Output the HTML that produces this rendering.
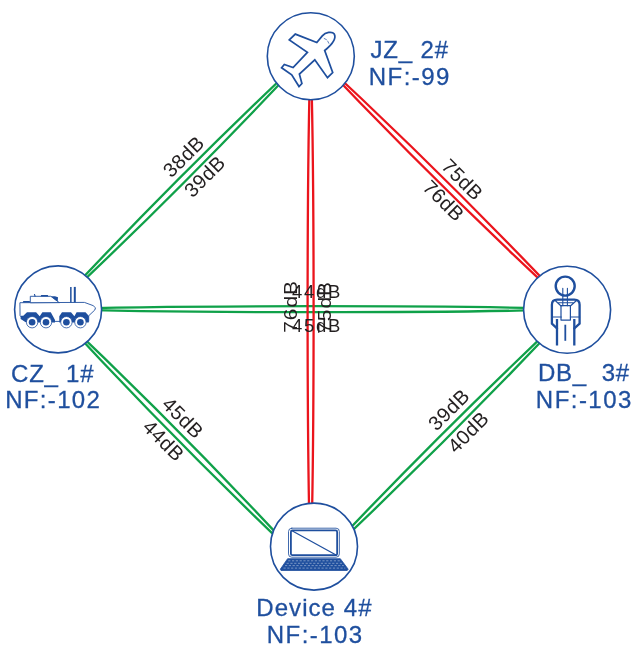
<!DOCTYPE html>
<html><head><meta charset="utf-8">
<style>
html,body{margin:0;padding:0;background:#fff;overflow:hidden;}
svg{display:block;will-change:transform;}
text{font-family:"Liberation Sans",sans-serif;}
.lbl{font-size:20px;letter-spacing:0.5px;fill:#231f20;text-anchor:middle;}
.nm{font-size:24px;fill:#1f4f9e;text-anchor:middle;stroke:#1f4f9e;stroke-width:0.3px;}
.g{stroke:#0fa149;stroke-width:2.3;fill:none;}
.r{stroke:#eb141c;stroke-width:2.3;fill:none;}
.c{fill:#fff;stroke:#1f4f9e;stroke-width:1.6;}
.i{fill:none;stroke:#1f4f9e;stroke-width:1.4;stroke-linejoin:round;stroke-linecap:round;}
.f{fill:#1f4f9e;stroke:none;}
</style></head><body>
<svg width="637" height="655" viewBox="0 0 637 655">
<path class="g" d="M53.30 309.20 C135.80 231.89 233.58 133.77 310.60 51.00"/>
<path class="g" d="M53.30 309.20 C130.32 226.43 228.10 128.31 310.60 51.00"/>
<path class="r" d="M310.60 51.00 C388.76 133.79 487.90 231.91 571.50 309.20"/>
<path class="r" d="M310.60 51.00 C394.20 128.29 493.34 226.41 571.50 309.20"/>
<path class="g" d="M53.30 309.20 C172.49 313.20 452.31 313.20 571.50 309.20"/>
<path class="g" d="M53.30 309.20 C172.49 305.20 452.31 305.20 571.50 309.20"/>
<path class="r" d="M310.60 51.00 C306.60 170.37 306.60 450.63 310.60 570.00"/>
<path class="r" d="M310.60 51.00 C314.60 170.37 314.60 450.63 310.60 570.00"/>
<path class="g" d="M53.30 309.20 C130.31 392.76 228.08 491.87 310.60 570.00"/>
<path class="g" d="M53.30 309.20 C135.82 387.33 233.59 486.44 310.60 570.00"/>
<path class="g" d="M571.50 309.20 C487.89 387.31 388.75 486.42 310.60 570.00"/>
<path class="g" d="M571.50 309.20 C493.35 392.78 394.21 491.89 310.60 570.00"/>
<text class="lbl" style="font-size:20px;letter-spacing:0.5px" transform="translate(188.5 161.4) rotate(-45)">38dB</text>
<text class="lbl" style="font-size:20px;letter-spacing:0.5px" transform="translate(209.6 181.2) rotate(-45)">39dB</text>
<text class="lbl" style="font-size:20px;letter-spacing:0.5px" transform="translate(457.5 184.5) rotate(45)">75dB</text>
<text class="lbl" style="font-size:20px;letter-spacing:0.5px" transform="translate(438.7 205.6) rotate(45)">76dB</text>
<text class="lbl" style="font-size:18.5px;letter-spacing:1.7px" transform="translate(317.0 298.0) rotate(0)">44dB</text>
<text class="lbl" style="font-size:18.5px;letter-spacing:1.7px" transform="translate(317.0 332.1) rotate(0)">45dB</text>
<text class="lbl" style="font-size:19.2px;letter-spacing:0.9px" transform="translate(296.7 306.4) rotate(-90) scale(1.09 1)">76dB</text>
<text class="lbl" style="font-size:19.2px;letter-spacing:0.9px" transform="translate(331.0 307.4) rotate(-90) scale(1.09 1)">75dB</text>
<text class="lbl" style="font-size:20px;letter-spacing:0.5px" transform="translate(178.0 422.8) rotate(45)">45dB</text>
<text class="lbl" style="font-size:20px;letter-spacing:0.5px" transform="translate(158.8 445.5) rotate(45)">44dB</text>
<text class="lbl" style="font-size:20px;letter-spacing:0.5px" transform="translate(453.7 414.5) rotate(-45)">39dB</text>
<text class="lbl" style="font-size:20px;letter-spacing:0.5px" transform="translate(473.1 437.0) rotate(-45)">40dB</text>
<circle class="c" cx="310.8" cy="56.2" r="43.5"/>
<circle class="c" cx="58.1" cy="309.4" r="43.5"/>
<circle class="c" cx="567.1" cy="309.7" r="43.5"/>
<circle class="c" cx="314.0" cy="546.6" r="43.5"/>
<text class="nm" x="409.2" y="57.5" textLength="77.6" lengthAdjust="spacing" xml:space="preserve">JZ_ 2#</text>
<text class="nm" x="409.1" y="84.6" textLength="80.7" lengthAdjust="spacing" xml:space="preserve">NF:-99</text>
<text class="nm" x="52.3" y="381.5" textLength="82.4" lengthAdjust="spacing" xml:space="preserve">CZ_ 1#</text>
<text class="nm" x="52.5" y="408.0" textLength="94.7" lengthAdjust="spacing" xml:space="preserve">NF:-102</text>
<text class="nm" x="583.6" y="381.1" textLength="91.1" lengthAdjust="spacing" xml:space="preserve">DB_  3#</text>
<text class="nm" x="583.6" y="408.0" textLength="95.5" lengthAdjust="spacing" xml:space="preserve">NF:-103</text>
<text class="nm" x="313.9" y="615.9" textLength="115.2" lengthAdjust="spacing" xml:space="preserve">Device 4#</text>
<text class="nm" x="314.5" y="642.6" textLength="95.4" lengthAdjust="spacing" xml:space="preserve">NF:-103</text>
<path class="i" style="stroke-width:1.75;stroke-linejoin:miter" d="M322.3 35.9 C325.5 32.3 332.1 31.0 334.3 34.1 C336.1 37.6 333.2 43.6 324.7 50.5 L332.7 72.5 L327.5 77.7 L314.8 59.8 L299.4 74.1 L301.9 83.5 L299.0 86.5 L291.7 74.9 L281.6 67.8 L284.3 64.5 L293.1 67.5 L307.4 52.4 L289.3 40.0 L295.3 34.1 L316.8 42.5 Z"/>
<path class="i" style="stroke-width:0.7" d="M324.2 38.5 L326.4 39.6 M327.7 41.1 L328.8 43.3"/>
<path class="i" style="stroke-width:0.9;fill:#fff;stroke-linejoin:miter" d="M20.3 302.7 L84.4 302.4 L93.1 305.6 L95.5 307.8 L94.8 310.0 L88.7 315.8 L88.7 321.4 L25.0 321.4 L20.3 315.8Z"/>
<path class="i" style="stroke-width:0.9;fill:#fff;stroke-linejoin:miter" d="M30.3 302.4 L30.3 296.3 L50.8 296.3 L59.0 302.4Z"/>
<path class="f" d="M50.8 296.3 L55.0 296.3 L58.0 297.3 L57.7 301.6 L56.6 301.1Z"/>
<path class="f" d="M41.2 294.9 L47.8 294.9 L48.4 296.4 L40.6 296.4Z"/>
<path class="f" d="M33.9 293.9 L34.9 293.9 L35.8 296.4 L34.5 296.4Z"/>
<path class="f" d="M23.3 301.1 L29.9 301.1 L29.9 302.4 L22.7 302.4Z"/>
<path class="f" d="M70.1 286.9 L71.6 286.9 L71.6 302.4 L70.1 302.4Z"/>
<path class="f" d="M73.8 286.9 L75.8 286.9 L75.8 302.4 L73.8 302.4Z"/>
<path class="f" d="M20.6 315.7 L23.3 315.7 L27.0 312.3 L36.1 312.3 L39.7 316.3 L42.4 312.3 L50.8 312.3 L55.0 320.0 L55.0 322.4 L26.3 322.4 L20.6 318.9Z"/>
<path class="f" d="M59.3 316.3 L62.0 312.3 L71.0 312.3 L74.4 316.3 L76.6 312.3 L85.5 312.3 L88.7 315.7 L88.7 322.4 L59.3 322.4Z"/>
<circle cx="32.1" cy="322.2" r="5.7" fill="#fff" stroke="#1f4f9e" stroke-width="0.8"/>
<circle cx="32.1" cy="322.2" r="3.3" class="f"/>
<circle cx="46.0" cy="322.2" r="5.7" fill="#fff" stroke="#1f4f9e" stroke-width="0.8"/>
<circle cx="46.0" cy="322.2" r="3.3" class="f"/>
<circle cx="66.4" cy="322.2" r="5.7" fill="#fff" stroke="#1f4f9e" stroke-width="0.8"/>
<circle cx="66.4" cy="322.2" r="3.3" class="f"/>
<circle cx="80.4" cy="322.2" r="5.7" fill="#fff" stroke="#1f4f9e" stroke-width="0.8"/>
<circle cx="80.4" cy="322.2" r="3.3" class="f"/>
<circle class="i" style="stroke-width:2.4" cx="565.2" cy="286.1" r="9.5"/>
<path class="i" style="stroke-width:2.3" d="M557.0 328.4 L551.9 323.7 L551.9 304.8 Q551.9 299.7 557.2 299.7 L574.3 299.7 Q579.6 299.7 579.6 304.8 L579.6 323.7 L574.3 328.4 "/>
<path class="i" style="stroke-width:2.3;stroke-linecap:butt" d="M557.0 319.1 L557.0 345.5 M574.3 319.1 L574.3 345.5"/>
<path class="i" style="stroke-width:1.8;stroke-linecap:butt" d="M565.3 324.7 L565.3 340.8"/>
<path class="i" style="stroke-width:1.1" d="M562.8 288.3 L562.8 305.7 M567.4 288.3 L567.4 305.7 M551.9 317.0 L561.3 317.0 M570.4 317.0 L579.6 317.0 M555.2 300.5 L561.0 306.0 M576.5 300.5 L570.4 306.0 M557.6 302.7 L574.1 302.7 "/>
<path class="i" style="stroke-width:1.2" d="M561.0 305.7 L570.4 305.7 L570.4 320.1 L561.0 320.1Z"/>
<rect class="i" style="stroke-width:0.85" x="288.5" y="528.2" width="50.85" height="29.0" rx="3.3"/>
<rect class="i" style="stroke-width:1.8" x="290.9" y="530.4" width="46.25" height="24.8" rx="1.5"/>
<path class="i" style="stroke-width:1.3" d="M292.0 530.8 L336.5 555.2"/>
<path class="f" style="stroke:#1f4f9e;stroke-width:0.8;stroke-linejoin:round" d="M287.6 558.7 L340.3 558.7 L348.2 569.2 L347.2 570.5 L281.0 570.5 L280.3 569.2Z"/>
<path d="M288.2 560.8 L340.3 560.8" stroke="#fff" stroke-width="0.55" stroke-dasharray="2.2 1.6" fill="none" opacity="0.75"/>
<path d="M286.6 563.3 L342.2 563.3" stroke="#fff" stroke-width="0.55" stroke-dasharray="2.2 1.6" fill="none" opacity="0.75"/>
<path d="M285.0 565.6 L343.8 565.6" stroke="#fff" stroke-width="0.55" stroke-dasharray="2.2 1.6" fill="none" opacity="0.75"/>
<path d="M283.5 568.1 L345.3 568.1" stroke="#fff" stroke-width="0.55" stroke-dasharray="2.2 1.6" fill="none" opacity="0.75"/>
</svg>
</body></html>
